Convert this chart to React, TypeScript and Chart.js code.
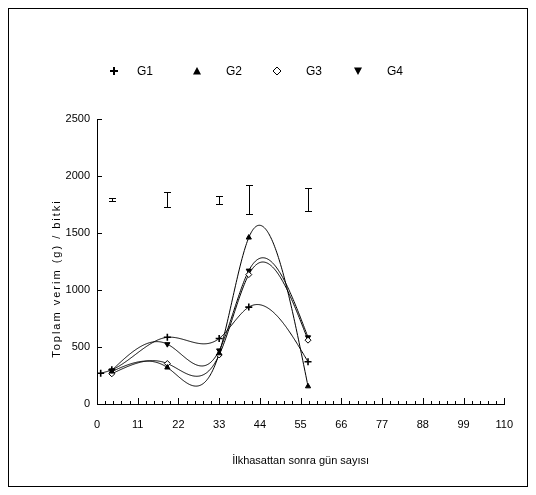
import React, { useEffect, useRef } from 'react';
import { Chart, registerables } from 'chart.js';

Chart.register(...registerables);

// ---- data ----
const seriesNames = ['G1', 'G2', 'G3', 'G4'];
const g1Days = [1, 4, 19, 33, 41, 57];
const g1Yield = [270, 300, 585, 575, 850, 370];
const otherDays = [4, 19, 33, 41, 57];
const g2Yield = [285, 320, 445, 1460, 155];
const g3Yield = [265, 355, 430, 1135, 560];
const g4Yield = [295, 525, 470, 1170, 585];

// error bars (LSD) drawn at the top of the plot
const errDays = [4, 19, 33, 41, 57];
const errMid = [1794, 1792, 1792, 1792, 1795];
const errHalf = [11, 67, 35, 125, 98];

const xMin = 0;
const xMax = 110;
const xTickStep = 2.2;
const xLabelEvery = 11;
const yMin = 0;
const yMax = 2500;
const yTickStep = 500;

const xTitle = 'İlkhasattan sonra gün sayısı';
const yTitle = 'Toplam verim (g) / bitki';

const FONT = '"Liberation Sans", Arial, sans-serif';

const isMajorX = (v: number) => Math.abs(v / xLabelEvery - Math.round(v / xLabelEvery)) < 1e-6;

// smoothed line through each series (natural cubic spline, as the spreadsheet smoothing draws it)
const splinePlugin = {
  id: 'smoothLine',
  beforeDatasetsDraw(chart: any) {
    const { ctx, chartArea, scales } = chart;
    const xs = scales.x;
    const ys = scales.y;
    ctx.save();
    ctx.beginPath();
    ctx.rect(chartArea.left, chartArea.top, chartArea.right - chartArea.left, chartArea.bottom - chartArea.top);
    ctx.clip();
    chart.data.datasets.forEach((ds: any) => {
      const px: number[] = ds.data.map((p: any) => p.x);
      const py: number[] = ds.data.map((p: any) => p.y);
      const n = px.length;
      const h: number[] = [];
      for (let i = 0; i < n - 1; i++) h.push(px[i + 1] - px[i]);
      const M = new Array(n).fill(0);
      const a: number[] = [], b: number[] = [], c: number[] = [], d: number[] = [];
      for (let i = 1; i < n - 1; i++) {
        a.push(h[i - 1]);
        b.push(2 * (h[i - 1] + h[i]));
        c.push(h[i]);
        d.push(6 * ((py[i + 1] - py[i]) / h[i] - (py[i] - py[i - 1]) / h[i - 1]));
      }
      const m = b.length;
      for (let i = 1; i < m; i++) {
        const w = a[i] / b[i - 1];
        b[i] -= w * c[i - 1];
        d[i] -= w * d[i - 1];
      }
      const sol = new Array(m).fill(0);
      for (let i = m - 1; i >= 0; i--) {
        sol[i] = (d[i] - (i < m - 1 ? c[i] * sol[i + 1] : 0)) / b[i];
      }
      for (let i = 0; i < m; i++) M[i + 1] = sol[i];
      const S = (t: number) => {
        let k = 0;
        while (k < n - 2 && t > px[k + 1]) k++;
        const hh = h[k];
        const u = px[k + 1] - t;
        const v = t - px[k];
        return (M[k] * u * u * u) / (6 * hh) + (M[k + 1] * v * v * v) / (6 * hh)
          + (py[k] / hh - (M[k] * hh) / 6) * u + (py[k + 1] / hh - (M[k + 1] * hh) / 6) * v;
      };
      const lo = px[0];
      const hi = px[n - 1];
      ctx.beginPath();
      const steps = Math.ceil((hi - lo) / 0.2);
      for (let s = 0; s <= steps; s++) {
        const t = lo + ((hi - lo) * s) / steps;
        const X = xs.getPixelForValue(t);
        const Y = ys.getPixelForValue(S(t));
        if (s === 0) ctx.moveTo(X, Y); else ctx.lineTo(X, Y);
      }
      ctx.strokeStyle = '#000';
      ctx.lineWidth = 1;
      ctx.stroke();
    });
    ctx.restore();
  },
};

// inward tick marks, error bars, axis titles and legend
const decorPlugin = {
  id: 'decor',
  afterDraw(chart: any) {
    const { ctx, chartArea, scales } = chart;
    const xs = scales.x;
    const ys = scales.y;
    ctx.save();
    ctx.strokeStyle = '#000';
    ctx.lineWidth = 1;
    xs.ticks.forEach((t: any, i: number) => {
      const X = Math.round(xs.getPixelForTick(i)) + 0.5;
      const len = isMajorX(t.value) ? 6 : 3;
      ctx.beginPath();
      ctx.moveTo(X, chartArea.bottom);
      ctx.lineTo(X, chartArea.bottom - len);
      ctx.stroke();
    });
    ys.ticks.forEach((t: any, i: number) => {
      const Y = Math.round(ys.getPixelForTick(i)) + 0.5;
      ctx.beginPath();
      ctx.moveTo(chartArea.left, Y);
      ctx.lineTo(chartArea.left + 5, Y);
      ctx.stroke();
    });
    errDays.forEach((dd, i) => {
      const X = Math.round(xs.getPixelForValue(dd)) + 0.5;
      const Y1 = Math.round(ys.getPixelForValue(errMid[i] + errHalf[i])) + 0.5;
      const Y2 = Math.round(ys.getPixelForValue(errMid[i] - errHalf[i])) + 0.5;
      ctx.beginPath();
      ctx.moveTo(X, Y1); ctx.lineTo(X, Y2);
      ctx.moveTo(X - 3.5, Y1); ctx.lineTo(X + 3.5, Y1);
      ctx.moveTo(X - 3.5, Y2); ctx.lineTo(X + 3.5, Y2);
      ctx.stroke();
    });
    ctx.fillStyle = '#000';
    ctx.font = `11px ${FONT}`;
    ctx.textAlign = 'center';
    ctx.textBaseline = 'middle';
    ctx.fillText(xTitle, (chartArea.left + chartArea.right) / 2, chartArea.bottom + 57);
    ctx.save();
    ctx.translate(chartArea.left - 40, (chartArea.top + chartArea.bottom) / 2 + 17);
    ctx.rotate(-Math.PI / 2);
    (ctx as any).letterSpacing = '2px';
    ctx.fillText(yTitle, 0, 0);
    ctx.restore();

    const ly = 62;
    const markX = [105, 188, 268, 349];
    const textX = [128, 217, 297, 378];
    ctx.font = `12px ${FONT}`;
    ctx.textAlign = 'left';
    ctx.textBaseline = 'middle';
    seriesNames.forEach((name, i) => {
      const mx = markX[i];
      ctx.fillStyle = '#000';
      ctx.strokeStyle = '#000';
      if (i === 0) {
        ctx.lineWidth = 2;
        ctx.beginPath();
        ctx.moveTo(mx - 4, ly); ctx.lineTo(mx + 4, ly);
        ctx.moveTo(mx, ly - 4); ctx.lineTo(mx, ly + 4);
        ctx.stroke();
      } else if (i === 1) {
        ctx.beginPath();
        ctx.moveTo(mx, ly - 4); ctx.lineTo(mx + 4, ly + 3.5); ctx.lineTo(mx - 4, ly + 3.5);
        ctx.closePath();
        ctx.fill();
      } else if (i === 2) {
        ctx.lineWidth = 1;
        ctx.fillStyle = '#fff';
        ctx.beginPath();
        ctx.moveTo(mx, ly - 4); ctx.lineTo(mx + 4, ly); ctx.lineTo(mx, ly + 4); ctx.lineTo(mx - 4, ly);
        ctx.closePath();
        ctx.fill();
        ctx.stroke();
      } else {
        ctx.beginPath();
        ctx.moveTo(mx - 4, ly - 3.5); ctx.lineTo(mx + 4, ly - 3.5); ctx.lineTo(mx, ly + 4);
        ctx.closePath();
        ctx.fill();
      }
      ctx.fillStyle = '#000';
      ctx.fillText(name, textX[i], ly + 1);
    });
    ctx.restore();
  },
};

const toPoints = (xs: number[], ys: number[]) => xs.map((x, i) => ({ x, y: ys[i] }));

export default function App() {
  const ref = useRef<HTMLCanvasElement | null>(null);

  useEffect(() => {
    if (!ref.current) return;
    const base = {
      showLine: false,
      borderColor: '#000',
      backgroundColor: '#000',
      borderWidth: 1,
    };
    const chart = new Chart(ref.current, {
      type: 'scatter',
      data: {
        datasets: [
          { ...base, label: seriesNames[0], data: toPoints(g1Days, g1Yield), pointStyle: 'cross', pointRadius: 3.5, borderWidth: 1.6 },
          { ...base, label: seriesNames[1], data: toPoints(otherDays, g2Yield), pointStyle: 'triangle', pointRadius: 3 },
          { ...base, label: seriesNames[2], data: toPoints(otherDays, g3Yield), pointStyle: 'rectRot', pointRadius: 3, backgroundColor: '#fff' },
          { ...base, label: seriesNames[3], data: toPoints(otherDays, g4Yield), pointStyle: 'triangle', pointRadius: 3, rotation: 180 },
        ],
      },
      options: {
        responsive: false,
        animation: false,
        events: [],
        layout: { padding: { top: 110, right: 22, left: 0, bottom: 0 } },
        plugins: {
          legend: { display: false },
          tooltip: { enabled: false },
          title: { display: false },
        },
        scales: {
          x: {
            type: 'linear',
            min: xMin,
            max: xMax,
            afterFit: (s: any) => { s.height = 82; },
            grid: { display: true, drawOnChartArea: false, drawTicks: false },
            border: { display: true, color: '#000', width: 1 },
            ticks: {
              stepSize: xTickStep,
              autoSkip: false,
              maxRotation: 0,
              padding: 14,
              color: '#000',
              font: { family: FONT, size: 11 },
              callback: (v: any) => (isMajorX(Number(v)) ? String(Math.round(Number(v))) : ''),
            },
          },
          y: {
            type: 'linear',
            min: yMin,
            max: yMax,
            afterFit: (s: any) => { s.width = 88; },
            grid: { display: true, drawOnChartArea: false, drawTicks: false },
            border: { display: true, color: '#000', width: 1 },
            ticks: {
              stepSize: yTickStep,
              padding: 7,
              color: '#000',
              font: { family: FONT, size: 11 },
              callback: (v: any) => String(v),
            },
          },
        },
      },
      plugins: [splinePlugin, decorPlugin],
    } as any);
    return () => chart.destroy();
  }, []);

  return (
    <div style={{ width: 520, height: 479, border: '1px solid #000', boxSizing: 'border-box', background: '#fff' }}>
      <canvas ref={ref} width={518} height={477} style={{ display: 'block' }} />
    </div>
  );
}
